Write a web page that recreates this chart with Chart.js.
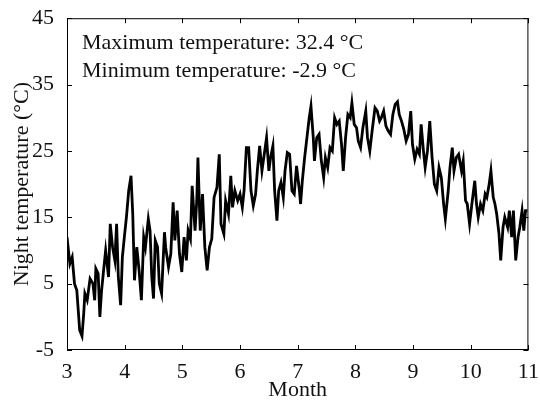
<!DOCTYPE html>
<html>
<head>
<meta charset="utf-8">
<script src="https://cdn.jsdelivr.net/npm/chart.js@4"></script>
<style>
  html, body { margin: 0; padding: 0; background: #fff; }
  #wrap { width: 540px; height: 400px; }
</style>
</head>
<body>
<div id="wrap"><canvas id="night-chart" width="540" height="400"></canvas></div>
<script>
// Readings taken off the reference plot (month, night temperature in °C)
const months = [
  3.00,3.05,3.09,3.13,3.17,3.22,3.26,3.29,3.31,3.35,
  3.40,3.45,3.48,3.50,3.54,3.57,3.60,3.64,3.67,3.72,
  3.75,3.79,3.83,3.86,3.89,3.93,3.96,4.00,4.03,4.07,
  4.11,4.14,4.17,4.21,4.25,4.29,4.33,4.36,4.41,4.44,
  4.47,4.50,4.53,4.57,4.60,4.64,4.69,4.71,4.76,4.80,
  4.84,4.87,4.91,4.95,4.99,5.03,5.07,5.10,5.14,5.17,
  5.22,5.25,5.27,5.31,5.35,5.39,5.43,5.47,5.51,5.55,
  5.60,5.64,5.67,5.72,5.75,5.80,5.84,5.87,5.91,5.96,
  6.00,6.04,6.07,6.11,6.15,6.19,6.23,6.27,6.30,6.34,
  6.38,6.42,6.46,6.50,6.53,6.57,6.60,6.64,6.67,6.71,
  6.75,6.78,6.82,6.86,6.90,6.94,6.98,7.03,7.05,7.08,
  7.12,7.16,7.20,7.23,7.27,7.29,7.33,7.37,7.41,7.45,
  7.48,7.52,7.56,7.60,7.64,7.68,7.72,7.76,7.79,7.83,
  7.87,7.91,7.94,7.98,8.02,8.05,8.09,8.13,8.18,8.21,
  8.25,8.29,8.34,8.38,8.42,8.45,8.49,8.53,8.57,8.61,
  8.65,8.69,8.73,8.76,8.80,8.84,8.88,8.92,8.96,8.99,
  9.03,9.07,9.11,9.14,9.18,9.21,9.25,9.29,9.33,9.37,
  9.41,9.45,9.49,9.53,9.56,9.61,9.64,9.68,9.71,9.75,
  9.79,9.84,9.87,9.91,9.94,9.98,10.02,10.07,10.10,10.13,
  10.17,10.21,10.25,10.28,10.32,10.35,10.39,10.42,10.45,10.49,
  10.52,10.56,10.59,10.64,10.67,10.71,10.74,10.78,10.82,10.85,
  10.89,10.92,10.95,10.98];

const nightTemp = [
  12,8,9,5,4,-2,-2.9,0.5,3.5,2.5,
  5.75,5,2.5,7.25,6.5,0,4,7.5,10,6,
  14,10.5,8.5,14,6,1.75,9,12.5,15,19,
  21.25,15.5,5.5,10.5,7,2.5,12,10.5,14.75,13,
  6,2.75,11.5,10.5,5,3.5,12.75,10.5,7.5,9.5,
  17.25,11.5,16,9.5,6.75,12,8.5,13,11.75,19.75,
  13,17.5,24,13,18.5,10.5,7,10.5,11.75,18,
  19.5,24.5,14,12.5,17.5,15.5,21.25,16.5,19,17.5,
  18.5,16.5,19,25.5,25.5,19,16.75,18.5,22,25.75,
  22,24.5,27,22,24,25.75,19,14.5,19,20.25,
  18,22,24.75,24.5,19,18.5,22.75,19,17,20.5,
  24,27,30,31.75,27,23.5,27,27.5,23.5,21,
  24,22.5,25.5,25,30,29,29.5,26,22,27,
  30.5,30,32.25,29,28.5,26.5,25.5,28.5,31,27,
  25,28,31.5,31,29.5,30,31,28.75,28,27.5,
  30.5,32,32.4,30.5,29.5,28.25,26.5,27.5,31,26,
  23.75,25.25,24.5,29,25,22.5,25,29.5,24,20,
  19,22.5,21,17,14.75,19,22.5,25.5,22,24,
  24.5,22,23.5,17.5,17,14,17,20.5,17,15,
  17,16,18.5,18,20,22,18,17,15.5,12.5,
  8.5,13.5,15,13.5,16,12,16,8.5,12,13.5,
  16,13,16,16];

const xTicks = [3, 4, 5, 6, 7, 8, 9, 10, 11];
const yTicks = [-5, 5, 15, 25, 35, 45];
const notes = ['Maximum temperature: 32.4 \u00B0C', 'Minimum temperature: -2.9 \u00B0C'];

const serif = "'Liberation Serif', 'Times New Roman', serif";
const ink = '#111';

// frame, inward tick marks on all four sides, and the two notes
const framePlugin = {
  id: 'frame',
  afterDraw(chart) {
    const { ctx, chartArea: a, scales } = chart;
    ctx.save();
    ctx.strokeStyle = '#000';
    ctx.lineWidth = 1;
    ctx.strokeRect(a.left + 0.5, a.top + 0.5, a.right - a.left - 1, a.bottom - a.top - 1);
    ctx.beginPath();
    xTicks.forEach(v => {
      const px = Math.round(scales.x.getPixelForValue(v)) + 0.5;
      ctx.moveTo(px, a.bottom); ctx.lineTo(px, a.bottom - 5);
      ctx.moveTo(px, a.top); ctx.lineTo(px, a.top + 5);
    });
    yTicks.forEach(v => {
      const py = Math.round(scales.y.getPixelForValue(v)) + 0.5;
      ctx.moveTo(a.left, py); ctx.lineTo(a.left + 5, py);
      ctx.moveTo(a.right, py); ctx.lineTo(a.right - 5, py);
    });
    ctx.stroke();
    ctx.fillStyle = ink;
    ctx.font = '22px ' + serif;
    ctx.textBaseline = 'alphabetic';
    ctx.fillText(notes[0], a.left + 15, a.top + 31);
    ctx.fillText(notes[1], a.left + 15, a.top + 59);
    ctx.restore();
  }
};

const ctx = document.getElementById('night-chart').getContext('2d');
new Chart(ctx, {
  type: 'line',
  data: {
    datasets: [{
      data: months.map((m, i) => ({ x: m, y: nightTemp[i] })),
      borderColor: '#000',
      borderWidth: 2.8,
      pointRadius: 0,
      tension: 0,
      fill: false
    }]
  },
  options: {
    responsive: false,
    animation: false,
    layout: { autoPadding: false, padding: { top: 16, right: 9, left: 0, bottom: 0 } },
    plugins: { legend: { display: false }, tooltip: { enabled: false } },
    scales: {
      x: {
        type: 'linear',
        min: 3, max: 11,
        afterBuildTicks: s => { s.ticks = xTicks.map(v => ({ value: v })); },
        afterFit: s => { s.height = 50; },
        grid: { display: false },
        border: { display: false },
        ticks: { font: { family: serif, size: 22 }, color: ink, padding: 1, maxRotation: 0, autoSkip: false },
        title: { display: true, text: 'Month', font: { family: serif, size: 22, lineHeight: 0.9 }, color: ink, padding: 0 }
      },
      y: {
        min: -5, max: 45,
        afterBuildTicks: s => { s.ticks = yTicks.map(v => ({ value: v })); },
        afterFit: s => { s.width = 67; },
        grid: { display: false },
        border: { display: false },
        ticks: { font: { family: serif, size: 22 }, color: ink, padding: 5 },
        title: { display: true, text: 'Night temperature (\u00B0C)', font: { family: serif, size: 22, lineHeight: 1.0 }, color: ink, padding: { top: 11, bottom: 0 } }
      }
    }
  },
  plugins: [framePlugin]
});
</script>
</body>
</html>
